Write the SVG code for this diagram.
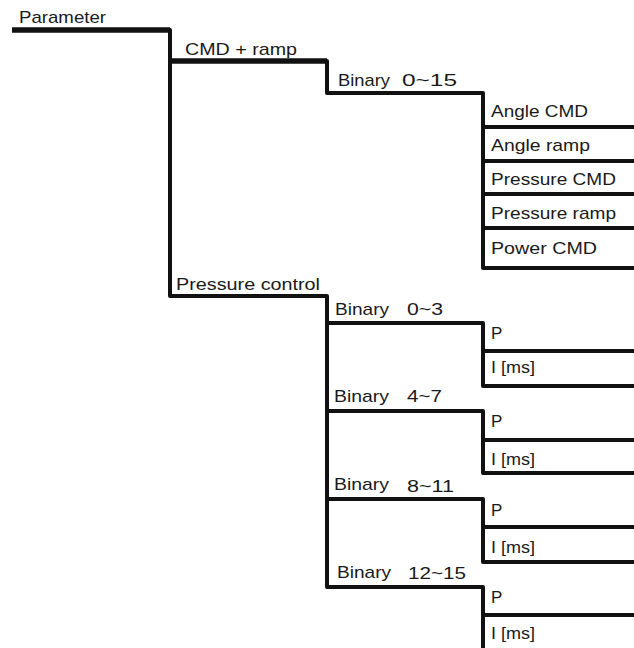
<svg xmlns="http://www.w3.org/2000/svg" width="634" height="648" viewBox="0 0 634 648">
<style>
text{font-family:"Liberation Sans",Arial,sans-serif;font-size:17px;fill:#1a1a1a}
.ln{fill:none;stroke:#111;stroke-width:4;stroke-linejoin:round;stroke-linecap:butt}
.thick{stroke-width:5.5}
</style>
<rect width="634" height="648" fill="#fff"/>
<g id="connectors">
<path class="ln thick" d="M12 30 H170"/>
<path class="ln thick" d="M170 61 H327"/>
<path class="ln" d="M168 30 H170 V296 H327 V587 H483 V648"/>
<path class="ln" d="M325 61 H327 V93 H483 V268 H634"/>
<path class="ln" d="M483 127 H634 M483 161 H634 M483 194 H634 M483 228 H634"/>
<path class="ln" d="M327 323 H483 V386 H634 M483 351 H634"/>
<path class="ln" d="M327 411 H483 V473 H634 M483 440 H634"/>
<path class="ln" d="M327 499 H483 V562 H634 M483 527 H634"/>
<path class="ln" d="M483 615 H634"/>
</g>
<g id="parameter"><text x="19" y="22.5" textLength="87" lengthAdjust="spacingAndGlyphs">Parameter</text></g>
<g id="cmd-ramp"><text x="185" y="55" textLength="112" lengthAdjust="spacingAndGlyphs">CMD + ramp</text></g>
<g id="binary-0-15"><text y="86"><tspan x="338" textLength="52" lengthAdjust="spacingAndGlyphs">Binary</tspan> <tspan x="402" textLength="55" lengthAdjust="spacingAndGlyphs">0~15</tspan></text></g>
<g id="angle-cmd"><text x="491" y="117" textLength="97" lengthAdjust="spacingAndGlyphs">Angle CMD</text></g>
<g id="angle-ramp"><text x="491" y="151" textLength="99" lengthAdjust="spacingAndGlyphs">Angle ramp</text></g>
<g id="pressure-cmd"><text x="491" y="185" textLength="125" lengthAdjust="spacingAndGlyphs">Pressure CMD</text></g>
<g id="pressure-ramp"><text x="491" y="218.5" textLength="125" lengthAdjust="spacingAndGlyphs">Pressure ramp</text></g>
<g id="power-cmd"><text x="491" y="253.5" textLength="106" lengthAdjust="spacingAndGlyphs">Power CMD</text></g>
<g id="pressure-control"><text x="176" y="290" textLength="144" lengthAdjust="spacingAndGlyphs">Pressure control</text></g>
<g id="binary-0-3"><text y="315"><tspan x="335" textLength="54" lengthAdjust="spacingAndGlyphs">Binary</tspan> <tspan x="407" textLength="36" lengthAdjust="spacingAndGlyphs">0~3</tspan></text></g>
<g id="p-1"><text x="491" y="339">P</text></g>
<g id="i-1"><text x="491" y="373" textLength="44" lengthAdjust="spacingAndGlyphs">I [ms]</text></g>
<g id="binary-4-7"><text y="402"><tspan x="334" textLength="55" lengthAdjust="spacingAndGlyphs">Binary</tspan> <tspan x="407" textLength="35" lengthAdjust="spacingAndGlyphs">4~7</tspan></text></g>
<g id="p-2"><text x="491" y="427">P</text></g>
<g id="i-2"><text x="491" y="465" textLength="44" lengthAdjust="spacingAndGlyphs">I [ms]</text></g>
<g id="binary-8-11"><text y="490"><tspan x="334" textLength="55" lengthAdjust="spacingAndGlyphs">Binary</tspan> <tspan x="407" y="491.5" textLength="47" lengthAdjust="spacingAndGlyphs">8~11</tspan></text></g>
<g id="p-3"><text x="491" y="516">P</text></g>
<g id="i-3"><text x="491" y="553" textLength="44" lengthAdjust="spacingAndGlyphs">I [ms]</text></g>
<g id="binary-12-15"><text y="577.5"><tspan x="337" textLength="54" lengthAdjust="spacingAndGlyphs">Binary</tspan> <tspan x="408" y="579" textLength="58" lengthAdjust="spacingAndGlyphs">12~15</tspan></text></g>
<g id="p-4"><text x="491" y="603">P</text></g>
<g id="i-4"><text x="491" y="638.5" textLength="44" lengthAdjust="spacingAndGlyphs">I [ms]</text></g>
</svg>
